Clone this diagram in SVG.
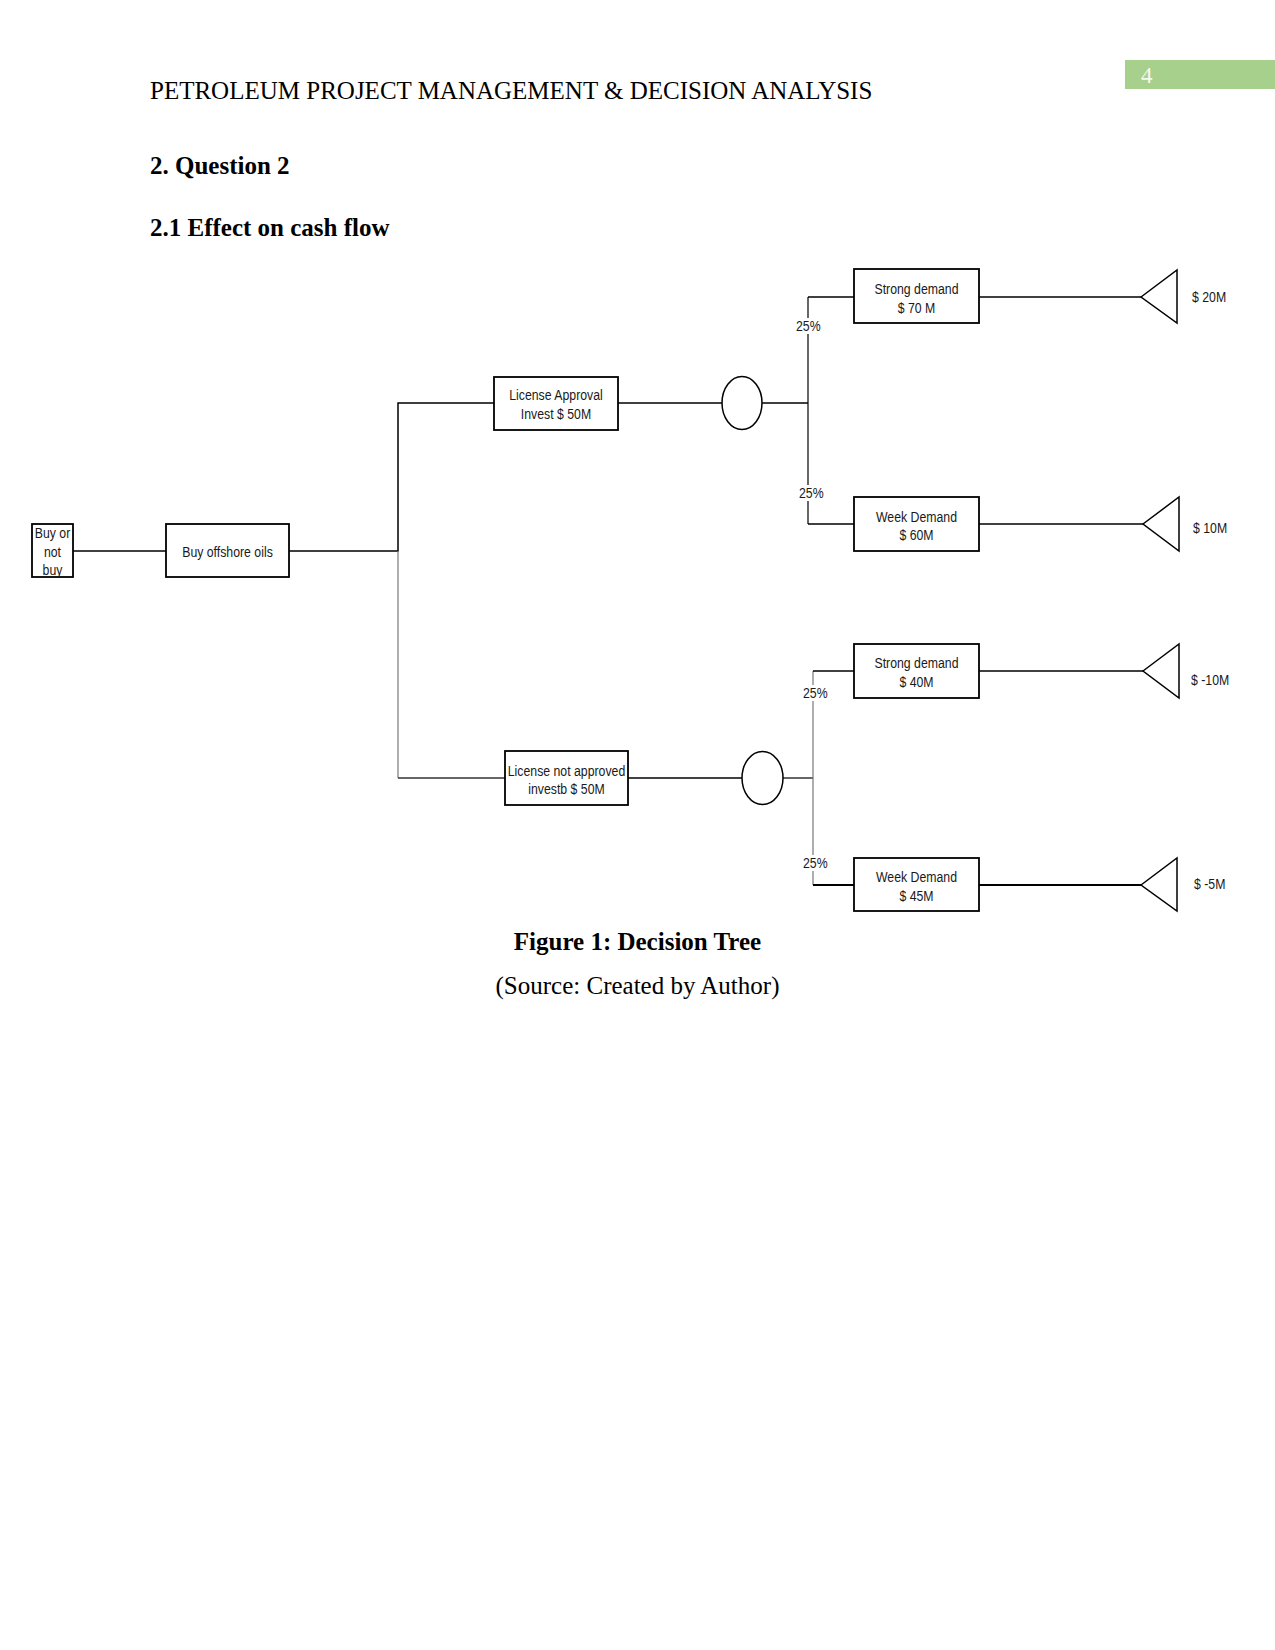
<svg xmlns="http://www.w3.org/2000/svg" width="1275" height="1650" viewBox="0 0 1275 1650">
<style>
.serif{font-family:"Liberation Serif","Times New Roman",serif;fill:#000}
.hd{font-size:25px}
.b{font-weight:bold}
.lbl{font-family:"Liberation Sans",Arial,sans-serif;font-size:15px;fill:#1a1a1a}
.c{text-anchor:middle}
.box{fill:#fff;stroke:#000;stroke-width:1.8}
.ln{fill:none;stroke:#000;stroke-width:1.5}
.gr{fill:none;stroke:#777;stroke-width:1.2}
.chance{fill:#fff;stroke:#000;stroke-width:1.5}
.end{fill:#fff;stroke:#000;stroke-width:1.5}
</style>
<rect width="1275" height="1650" fill="#fff"/>
<g id="header">
<rect x="1125" y="60" width="150" height="29" fill="#a8d08d"/>
<text x="1141" y="83" class="serif" font-size="23" style="fill:#f4f8ef">4</text>
<text x="150" y="99" class="serif hd">PETROLEUM PROJECT MANAGEMENT &amp; DECISION ANALYSIS</text>
<text x="150" y="174" class="serif hd b">2. Question 2</text>
<text x="150" y="236" class="serif hd b">2.1 Effect on cash flow</text>
</g>
<g id="connectors">
<path class="ln" d="M73 551 H166"/>
<path class="ln" d="M289 551 H398 V403 H494"/>
<path class="gr" d="M398 551 V778"/>
<path class="ln" d="M398 778 H505" style="stroke:#333"/>
<path class="ln" d="M618 403 H722"/>
<path class="ln" d="M762 403 H808"/>
<path class="ln" d="M808 297 V524" style="stroke-width:1.2"/>
<path class="ln" d="M808 297 H854"/>
<path class="ln" d="M808 524 H854"/>
<path class="ln" d="M628 778 H742"/>
<path class="ln" d="M783 778 H813" style="stroke:#333"/>
<path class="gr" d="M813 671 V885"/>
<path class="ln" d="M813 671 H854"/>
<path class="ln" d="M813 885 H854" style="stroke-width:2"/>
<path class="ln" d="M979 297 H1141"/>
<path class="ln" d="M979 524 H1143"/>
<path class="ln" d="M979 671 H1143"/>
<path class="ln" d="M979 885 H1141" style="stroke-width:2"/>
</g>
<g id="prob-labels">
<rect x="796" y="318" width="25" height="16" fill="#fff"/>
<text transform="translate(796,331) scale(0.82,1)" class="lbl">25%</text>
<rect x="799" y="485" width="25" height="16" fill="#fff"/>
<text transform="translate(799,498) scale(0.82,1)" class="lbl">25%</text>
<rect x="803" y="685" width="25" height="16" fill="#fff"/>
<text transform="translate(803,698) scale(0.82,1)" class="lbl">25%</text>
<rect x="803" y="855" width="25" height="16" fill="#fff"/>
<text transform="translate(803,868) scale(0.82,1)" class="lbl">25%</text>
</g>
<g id="node-buy-or-not">
<rect class="box" x="32" y="524" width="41" height="53"/>
<text transform="translate(52.5,538) scale(0.82,1)" class="lbl c">Buy or</text>
<text transform="translate(52.5,557) scale(0.82,1)" class="lbl c">not</text>
<text transform="translate(52.5,575) scale(0.82,1)" class="lbl c">buy</text>
</g>
<g id="node-buy-offshore">
<rect class="box" x="166" y="524" width="123" height="53"/>
<text transform="translate(227.5,557) scale(0.82,1)" class="lbl c">Buy offshore oils</text>
</g>
<g id="node-license-approval">
<rect class="box" x="494" y="377" width="124" height="53"/>
<text transform="translate(556,400) scale(0.82,1)" class="lbl c">License Approval</text>
<text transform="translate(556,419) scale(0.82,1)" class="lbl c">Invest $ 50M</text>
</g>
<g id="node-chance-1">
<ellipse class="chance" cx="742" cy="403" rx="20" ry="26.5"/>
</g>
<g id="node-license-not-approved">
<rect class="box" x="505" y="751" width="123" height="54"/>
<text transform="translate(566.5,776) scale(0.82,1)" class="lbl c">License not approved</text>
<text transform="translate(566.5,794) scale(0.82,1)" class="lbl c">investb $ 50M</text>
</g>
<g id="node-chance-2">
<ellipse class="chance" cx="762.5" cy="778" rx="20.5" ry="26.5"/>
</g>
<g id="node-strong-70">
<rect class="box" x="854" y="269" width="125" height="54"/>
<text transform="translate(916.5,294) scale(0.82,1)" class="lbl c">Strong demand</text>
<text transform="translate(916.5,313) scale(0.82,1)" class="lbl c">$ 70 M</text>
</g>
<g id="node-week-60">
<rect class="box" x="854" y="497" width="125" height="54"/>
<text transform="translate(916.5,522) scale(0.82,1)" class="lbl c">Week Demand</text>
<text transform="translate(916.5,540) scale(0.82,1)" class="lbl c">$ 60M</text>
</g>
<g id="node-strong-40">
<rect class="box" x="854" y="644" width="125" height="54"/>
<text transform="translate(916.5,668) scale(0.82,1)" class="lbl c">Strong demand</text>
<text transform="translate(916.5,687) scale(0.82,1)" class="lbl c">$ 40M</text>
</g>
<g id="node-week-45">
<rect class="box" x="854" y="858" width="125" height="53"/>
<text transform="translate(916.5,882) scale(0.82,1)" class="lbl c">Week Demand</text>
<text transform="translate(916.5,901) scale(0.82,1)" class="lbl c">$ 45M</text>
</g>
<g id="node-end-20">
<polygon class="end" points="1141,297 1177,270 1177,323"/>
<text transform="translate(1192,302) scale(0.82,1)" class="lbl">$ 20M</text>
</g>
<g id="node-end-10">
<polygon class="end" points="1143,524 1179,497 1179,551"/>
<text transform="translate(1193,533) scale(0.82,1)" class="lbl">$ 10M</text>
</g>
<g id="node-end-neg10">
<polygon class="end" points="1143,671 1179,644 1179,698"/>
<text transform="translate(1191,685) scale(0.82,1)" class="lbl">$ -10M</text>
</g>
<g id="node-end-neg5">
<polygon class="end" points="1141,885 1177,858 1177,911"/>
<text transform="translate(1194,889) scale(0.82,1)" class="lbl">$ -5M</text>
</g>
<g id="caption">
<text x="637.5" y="950" class="serif hd b c">Figure 1: Decision Tree</text>
<text x="637.5" y="994" class="serif hd c">(Source: Created by Author)</text>
</g>
</svg>
